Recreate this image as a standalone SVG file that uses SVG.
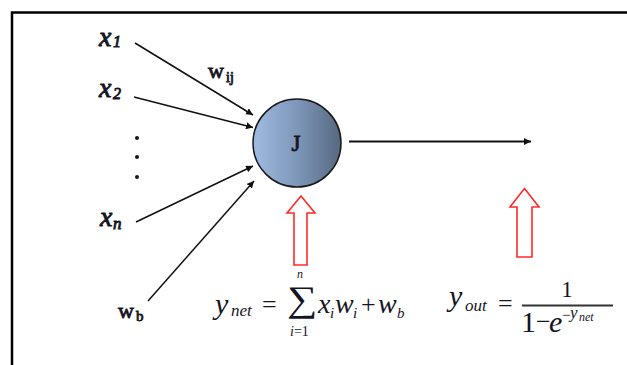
<svg xmlns="http://www.w3.org/2000/svg" width="627" height="365" viewBox="0 0 627 365">
<style>
.lbl{font-family:"Liberation Serif","Times New Roman","DejaVu Serif",serif;fill:#15151f}
.bi{font-style:italic;stroke:#15151f;stroke-width:0.9}
.b{stroke:#15151f;stroke-width:0.8}
.it{font-style:italic}
.conn{stroke:#111;stroke-width:1.5;fill:none;marker-end:url(#ah)}
.hollow{fill:#fff;stroke:#ff2a2a;stroke-width:1.6;stroke-linejoin:miter}
</style>
<defs>
<marker id="ah" viewBox="0 0 10 10" refX="10" refY="5" markerWidth="7" markerHeight="7" orient="auto" markerUnits="userSpaceOnUse">
<path d="M0,0 L10,5 L0,10 Z" fill="#111"/>
</marker>
<linearGradient id="jg" x1="0" y1="0" x2="1" y2="0">
<stop offset="0" stop-color="#a0bbe0"/>
<stop offset="0.5" stop-color="#7e97b9"/>
<stop offset="1" stop-color="#56687f"/>
</linearGradient>
</defs>
<rect width="627" height="365" fill="#fff"/>
<path d="M12 365 V12.5 H627" fill="none" stroke="#000" stroke-width="2.5"/>

<g id="connectors">
<line class="conn" x1="135" y1="43" x2="253" y2="115"/>
<line class="conn" x1="134" y1="97" x2="253" y2="127.5"/>
<line class="conn" x1="136" y1="222" x2="253" y2="166"/>
<line class="conn" x1="148" y1="301" x2="254" y2="181"/>
<line class="conn" x1="349" y1="141.5" x2="531" y2="141.5" style="stroke-width:2"/>
</g>

<g id="x1"><text class="lbl bi" x="99" y="46" font-size="28">x</text><text class="lbl bi" x="113" y="47" font-size="16">1</text></g>
<g id="x2"><text class="lbl bi" x="99" y="97" font-size="28">x</text><text class="lbl bi" x="113" y="99" font-size="16">2</text></g>
<g id="dots" fill="#15151f"><circle cx="137" cy="138" r="2"/><circle cx="137" cy="157" r="2"/><circle cx="137" cy="177" r="2"/></g>
<g id="xn"><text class="lbl bi" x="100" y="226" font-size="28">x</text><text class="lbl bi" x="113" y="229" font-size="17">n</text></g>
<g id="wb"><text class="lbl b" x="118" y="318" font-size="22">w</text><text class="lbl b" x="136" y="321" font-size="15">b</text></g>
<g id="wij"><text class="lbl b" x="208" y="78" font-size="22">w</text><text class="lbl b" x="226" y="82" font-size="14">ij</text></g>

<g id="J">
<circle cx="297" cy="143" r="44" fill="url(#jg)" stroke="#1a1a1a" stroke-width="1.5"/>
<text class="lbl b" x="296" y="151" font-size="23" text-anchor="middle">J</text>
</g>

<g id="red-arrows">
<polygon class="hollow" points="301,196 315,213 307,213 307,265 294,265 294,213 287,213"/>
<polygon class="hollow" points="524.5,188.5 539,207 532,207 532,257 517,257 517,207 510,207"/>
</g>

<g id="ynet-formula">
<text class="lbl it" x="215" y="314" font-size="30">y</text>
<text class="lbl it" x="231" y="316" font-size="17">net</text>
<text class="lbl" x="262" y="313" font-size="26">=</text>
<text class="lbl" transform="translate(287,311) scale(1.18,1)" font-size="36">∑</text>
<text class="lbl it" x="297" y="278" font-size="12">n</text>
<text class="lbl" x="290" y="336" font-size="14"><tspan font-style="italic">i</tspan>=1</text>
<text class="lbl it" x="318" y="313" font-size="28">x</text>
<text class="lbl it" x="330" y="318" font-size="15">i</text>
<text class="lbl it" x="335" y="313" font-size="28">w</text>
<text class="lbl it" x="353" y="318" font-size="15">i</text>
<text class="lbl" x="361" y="313" font-size="26">+</text>
<text class="lbl it" x="378" y="313" font-size="28">w</text>
<text class="lbl it" x="397" y="318" font-size="15">b</text>
</g>

<g id="yout-formula">
<text class="lbl it" x="449" y="306" font-size="30">y</text>
<text class="lbl it" x="465" y="311" font-size="17">out</text>
<text class="lbl" x="498" y="312" font-size="26">=</text>
<line x1="522" y1="305.5" x2="613" y2="305.5" stroke="#333" stroke-width="1.8"/>
<text class="lbl" x="567" y="297" font-size="23" text-anchor="middle">1</text>
<text class="lbl" x="521" y="332" font-size="30">1</text>
<text class="lbl" x="536" y="330" font-size="26">−</text>
<text class="lbl it" x="549" y="332" font-size="30">e</text>
<text class="lbl" x="562" y="320" font-size="15">−</text>
<text class="lbl it" x="570" y="318" font-size="17">y</text>
<text class="lbl it" x="579" y="321" font-size="12">net</text>
</g>
</svg>
